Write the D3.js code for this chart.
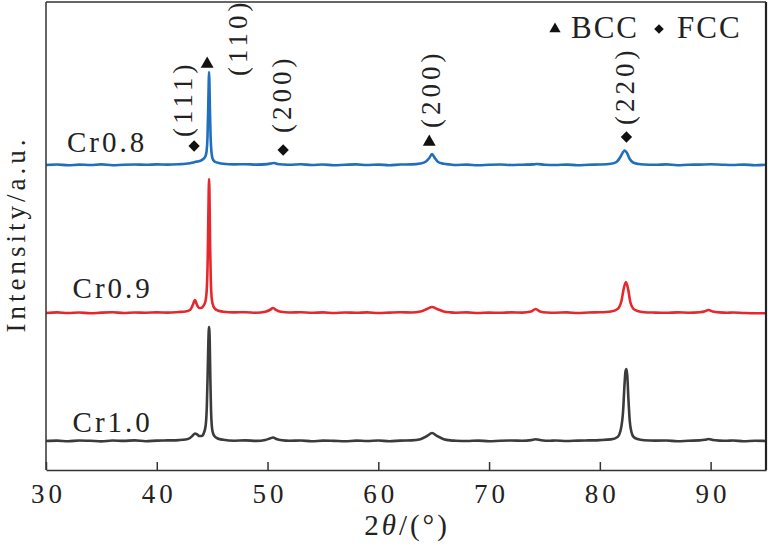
<!DOCTYPE html>
<html>
<head>
<meta charset="utf-8">
<script src="https://cdn.jsdelivr.net/npm/d3@7"></script>
<style>
  html, body { margin: 0; padding: 0; background: #fff; }
  svg { display: block; }
  text { font-family: "Liberation Serif", "Times New Roman", serif; fill: #222; }
</style>
</head>
<body>
<svg id="chart" width="770" height="549"></svg>
<script>
// ---------- DATA ----------
const seriesNames = ["Cr0.8", "Cr0.9", "Cr1.0"];
const seriesColors = ["#1f6fbe", "#e5282b", "#3b3b3b"];
const seriesOffsets = [305, 157, 29]; // vertical stacking offsets (a.u.)

// [2theta, intensity above own baseline]
const cr08 = [
  [30,0],[31,0.5],[32,-0.3],[33,0.4],[34,0],[35,0.6],[36,-0.2],[37,0.3],[38,0.5],[39,0.2],
  [40,0.6],[41,0.4],[42,0.8],[42.6,1.2],[43.0,1.8],[43.3,2.5],[43.5,3.2],[43.7,3.5],[44.0,4.5],
  [44.2,6],[44.4,9],[44.5,14],[44.58,28],[44.64,55],[44.69,82],[44.72,93],[44.75,84],[44.8,55],
  [44.86,28],[44.93,14],[45.0,8],[45.1,5],[45.3,3],[45.6,2],[46,1.2],[47,0.6],[48,0.8],[49,0.4],
  [50,0.9],[50.4,1.8],[50.6,2],[50.9,1],[51.5,0.5],[52,0.3],[53,0.7],[54,0],[55,0.5],[56,-0.3],
  [57,0.3],[58,0.6],[59,0],[60,0.4],[61,-0.2],[62,0.5],[63,0.6],[63.8,1.5],[64.3,3.5],[64.6,7],
  [64.85,11],[65.1,7],[65.4,3],[65.9,1.2],[66.5,0.5],[67,0],[68,0.4],[69,-0.3],[70,0.2],[71,0.5],
  [72,0],[73,0.3],[74,0.6],[74.3,1],[75,0.3],[76,0],[77,0.4],[78,-0.2],[79,0.3],[80,0.5],[81,1.2],
  [81.5,3],[81.85,8],[82.1,13],[82.25,14.5],[82.45,12],[82.7,6],[83.0,2.5],[83.5,1],[84,0.5],
  [85,0.2],[86,0.6],[87,-0.2],[88,0.3],[89,0.4],[90,0.7],[91,0.3],[92,0],[93,0.4],[94,-0.2],[95,0.2]
];
const cr09 = [
  [30,0],[31,0.6],[32,0],[33,0.5],[34,-0.3],[35,0.4],[36,0.7],[37,0],[38,0.5],[39,0.3],[40,0.6],
  [41,0.4],[42,1],[42.6,1.5],[43.0,3],[43.25,8],[43.45,13],[43.6,9],[43.8,5],[44.0,5],[44.2,7],
  [44.4,12],[44.52,25],[44.6,55],[44.66,100],[44.72,134],[44.77,110],[44.82,65],[44.88,32],
  [44.95,16],[45.05,9],[45.2,5],[45.5,2.5],[46,1.3],[47,0.6],[48,0.8],[49,0.3],[49.8,1.2],
  [50.2,3],[50.5,5],[50.8,2.8],[51.2,1.2],[52,0.5],[53,0.8],[54,0.2],[55,0.6],[56,0],[57,0.5],
  [58,0.2],[59,0.6],[60,0],[61,0.4],[62,0.7],[63,0.5],[63.8,1.5],[64.4,4],[64.85,6],[65.3,4],
  [65.9,1.5],[66.5,0.6],[67,0.3],[68,0.6],[69,0],[70,0.4],[71,0.2],[72,0.6],[73,0.4],[73.8,1.5],
  [74.2,4],[74.6,1.5],[75.2,0.5],[76,0.3],[77,0.6],[78,0],[79,0.5],[80,0.7],[81,1.5],[81.6,4],
  [81.95,12],[82.15,24],[82.35,31],[82.55,24],[82.75,11],[83.0,4.5],[83.4,2],[84,0.8],[85,0.4],
  [86,0.2],[87,0.6],[88,0.3],[89,0.8],[89.5,1.8],[89.8,3],[90.2,1.5],[90.8,0.6],[91.5,0.3],
  [92,0.5],[93,0],[94,-0.3],[95,-0.2]
];
const cr10 = [
  [30,0],[31,0.4],[32,-0.3],[33,0.5],[34,0.2],[35,-0.4],[36,0.5],[37,0.1],[38,0.6],[39,-0.2],
  [40,0.4],[41,0.6],[42,0.9],[42.6,1.5],[43.0,3],[43.25,5.5],[43.45,7.5],[43.65,6.5],[43.85,5],
  [44.05,5],[44.25,8],[44.42,16],[44.52,35],[44.6,70],[44.66,100],[44.72,114],[44.78,100],
  [44.84,60],[44.9,30],[44.97,15],[45.05,9],[45.2,5],[45.5,2.5],[46,1.2],[47,0.3],[48,0.6],
  [49,0.1],[49.8,1],[50.2,2.5],[50.5,3.5],[50.8,2],[51.3,0.7],[52,0.2],[53,0.5],[54,-0.3],
  [55,0.4],[56,0.1],[57,-0.3],[58,0.4],[59,0],[60,0.5],[61,-0.2],[62,0.4],[63,0.6],[63.8,1.8],
  [64.4,5],[64.85,8],[65.3,5],[65.9,1.8],[66.5,0.6],[67,0.3],[68,0],[69,0.4],[70,-0.2],[71,0.3],
  [72,0.5],[73,0.2],[73.8,0.9],[74.2,1.8],[74.7,0.8],[75.5,0.2],[76,0.5],[77,0],[78,0.4],[79,0.6],
  [80,0.9],[81,1.6],[81.6,4],[81.9,12],[82.1,30],[82.22,55],[82.32,70],[82.4,72],[82.48,65],
  [82.58,42],[82.7,20],[82.85,9],[83.05,4],[83.4,2],[84,0.8],[85,0.4],[86,0.5],[87,-0.2],
  [88,0.3],[89,0.6],[89.5,1.2],[89.8,2],[90.2,1],[90.8,0.4],[91.5,0.2],[92,0.5],[93,-0.2],
  [94,0.3],[95,0]
];
const seriesData = [cr08, cr09, cr10];

const xTicks = [30, 40, 50, 60, 70, 80, 90];

// peak annotations: phase, hkl, 2theta of marker, marker level (a.u.)
const peakPhase = ["FCC", "BCC", "FCC", "BCC", "FCC"];
const peakHkl   = ["(111)", "(110)", "(200)", "(200)", "(220)"];
const peakAngle = [43.37, 44.55, 51.41, 64.6, 82.4];
const peakLevel = [324, 406, 320, 328, 333];

const legendPhases = ["BCC", "FCC"];

// ---------- LAYOUT ----------
const W = 770, H = 549;
const plot = { left: 46, right: 766, top: 2, bottom: 470 };
const svg = d3.select("#chart");

const x = d3.scaleLinear().domain([30, 95]).range([plot.left, plot.right]);
const y = d3.scaleLinear().domain([0, 468]).range([plot.bottom, plot.top]);

svg.append("defs").append("clipPath").attr("id", "clip")
  .append("rect").attr("x", plot.left).attr("y", plot.top)
  .attr("width", plot.right - plot.left).attr("height", plot.bottom - plot.top);

// lines
const line = d3.line()
  .x(d => x(d[0]))
  .y(d => y(d[1]))
  .curve(d3.curveMonotoneX);

seriesData.forEach((data, i) => {
  const shifted = data.map(d => [d[0], d[1] + seriesOffsets[i]]);
  svg.append("path")
    .attr("clip-path", "url(#clip)")
    .attr("d", line(shifted))
    .attr("fill", "none")
    .attr("stroke", seriesColors[i])
    .attr("stroke-width", 2.6)
    .attr("stroke-linejoin", "round");
});

// frame
const frameColor = "#333";
svg.append("line").attr("x1", plot.left).attr("x2", plot.right)
  .attr("y1", plot.top).attr("y2", plot.top)
  .attr("stroke", frameColor).attr("stroke-width", 1.5);
svg.append("line").attr("x1", plot.right).attr("x2", plot.right)
  .attr("y1", plot.top).attr("y2", plot.bottom)
  .attr("stroke", "#222").attr("stroke-width", 2.2);
svg.append("line").attr("x1", plot.left).attr("x2", plot.left)
  .attr("y1", plot.top).attr("y2", plot.bottom)
  .attr("stroke", frameColor).attr("stroke-width", 1.5);

// x axis
const xAxis = d3.axisBottom(x).tickValues(xTicks).tickSizeInner(-8).tickSizeOuter(0).tickPadding(14);
const gx = svg.append("g").attr("transform", `translate(0,${plot.bottom})`).call(xAxis);
gx.select(".domain").attr("stroke", frameColor).attr("stroke-width", 1.5);
gx.selectAll(".tick line").attr("stroke", frameColor).attr("stroke-width", 1.5);
gx.selectAll(".tick text")
  .attr("font-family", "Liberation Serif, serif")
  .attr("font-size", 27)
  .attr("fill", "#222")
  .attr("dy", "0.71em")
  .attr("dx", 2)
  .style("letter-spacing", "4px");

// axis titles
const xt = svg.append("text")
  .attr("x", 407).attr("y", 535)
  .attr("text-anchor", "middle")
  .attr("font-size", 29)
  .style("letter-spacing", "3px");
xt.append("tspan").text("2");
xt.append("tspan").attr("font-style", "italic").text("θ");
xt.append("tspan").text("/(°)");

svg.append("text")
  .attr("transform", `translate(25,234) rotate(-90)`)
  .attr("text-anchor", "middle")
  .attr("font-size", 27)
  .style("letter-spacing", "4px")
  .text("Intensity/a.u.");

// series labels
const labelAngle = [31.9, 32.4, 32.4];
const labelRise = [13, 15, 9];
seriesNames.forEach((name, i) => {
  svg.append("text")
    .attr("x", x(labelAngle[i]))
    .attr("y", y(seriesOffsets[i]) - labelRise[i])
    .attr("font-size", 29)
    .style("letter-spacing", "3px")
    .text(name);
});

// markers
const triangle = d3.symbol().type(d3.symbolTriangle);
const diamond = d3.symbol().type(d3.symbolSquare);
function drawMarker(g, phase, cx, cy, size) {
  if (phase === "BCC") {
    g.append("path").attr("d", triangle.size(size)())
      .attr("transform", `translate(${cx},${cy})`).attr("fill", "#111");
  } else {
    g.append("path").attr("d", diamond.size(size)())
      .attr("transform", `translate(${cx},${cy}) rotate(45)`).attr("fill", "#111");
  }
}

// peak annotations (text offsets relative to the marker, px)
const textDx = [-11, 31, -1, 2, -1];
const textDy = [-9, 12, -17, -14, -12];
const ann = svg.append("g");
peakAngle.forEach((a, i) => {
  const cx = x(a), cy = y(peakLevel[i]);
  drawMarker(ann, peakPhase[i], cx, cy, peakPhase[i] === "BCC" ? 72 : 64);
  ann.append("text")
    .attr("transform", `translate(${cx + textDx[i]},${cy + textDy[i]}) rotate(-90)`)
    .attr("dominant-baseline", "central")
    .attr("font-size", 27)
    .style("letter-spacing", "4px")
    .text(peakHkl[i]);
});

// legend
const legendMarkX = [555, 659];
const legendTextX = [571, 677];
legendPhases.forEach((p, i) => {
  drawMarker(svg, p, legendMarkX[i], 29, p === "BCC" ? 55 : 46);
  svg.append("text")
    .attr("x", legendTextX[i]).attr("y", 38)
    .attr("font-size", 31)
    .style("letter-spacing", "2px")
    .text(p);
});
</script>
</body>
</html>
